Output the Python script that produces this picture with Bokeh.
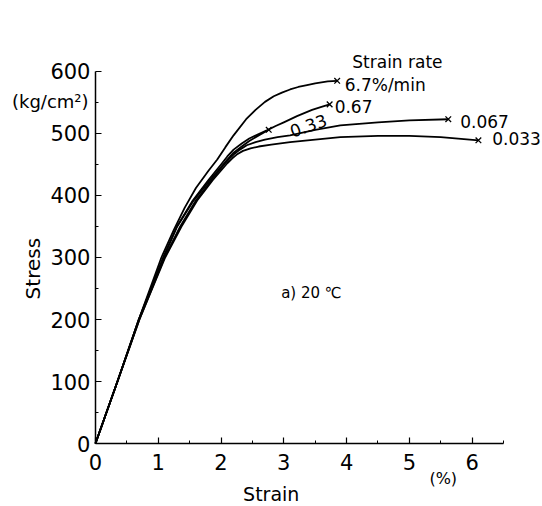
import math
from bokeh.plotting import figure
from bokeh.models import Range1d, FixedTicker, Label, LinearAxis
from bokeh.embed import file_html
from bokeh.resources import INLINE

# ---- data (strain %, stress kg/cm2) ----
x_67 = [0, 0.35, 0.69, 1.05, 1.25, 1.42, 1.6, 1.8, 1.94, 2.07, 2.2, 2.4, 2.55, 2.7, 2.84, 2.97, 3.1, 3.23, 3.37, 3.5, 3.7, 3.85]
y_67 = [0, 100, 200, 300, 345, 380, 412, 440, 458, 478, 497, 523, 538, 551, 560, 566, 571, 575, 578, 581, 584, 585]

x_067 = [0, 0.35, 0.69, 1.08, 1.3, 1.55, 1.8, 2.0, 2.1, 2.2, 2.33, 2.45, 2.6, 2.73, 2.87, 3.0, 3.21, 3.45, 3.6, 3.73]
y_067 = [0, 100, 200, 300, 350, 392, 425, 450, 463, 474, 484, 492, 499, 505, 512, 518, 528, 538, 543, 547]

x_033 = [0, 0.35, 0.69, 1.08, 1.3, 1.55, 1.8, 2.0, 2.1, 2.2, 2.33, 2.45, 2.6, 2.76]
y_033 = [0, 100, 200, 300, 350, 390, 422, 446, 458, 469, 479, 488, 497, 506]

x_0067 = [0, 0.35, 0.7, 1.1, 1.35, 1.6, 1.85, 2.05, 2.13, 2.2, 2.3, 2.41, 2.55, 2.7, 2.9, 3.1, 3.5, 3.9, 4.5, 5.0, 5.62]
y_0067 = [0, 100, 200, 300, 350, 392, 425, 450, 459, 466, 474, 481, 486, 490, 494, 497, 506, 513, 518, 521, 523]

x_0033 = [0, 0.35, 0.7, 1.11, 1.37, 1.62, 1.87, 2.1, 2.18, 2.25, 2.35, 2.47, 2.6, 2.8, 3.1, 3.5, 3.9, 4.5, 5.0, 5.5, 6.1]
y_0033 = [0, 100, 200, 300, 350, 392, 425, 452, 460, 466, 472, 476, 479, 482, 486, 490, 494, 496, 496, 494, 489]

x_ticks = [0, 1, 2, 3, 4, 5, 6]
x_minor = [0.5, 1.5, 2.5, 3.5, 4.5, 5.5, 6.5]
y_ticks = [0, 100, 200, 300, 400, 500, 600]
y_minor = [50, 150, 250, 350, 450, 550]

curve_labels = ["6.7%/min", "0.67", "0.33", "0.067", "0.033"]

FONT = "DejaVu Sans"

p = figure(width=542, height=506, output_backend="svg", toolbar_location=None,
           x_range=Range1d(-1.513, 7.121), y_range=Range1d(-101.6, 714.5),
           x_axis_location=None, y_axis_location=None,
           min_border=0)
p.outline_line_color = None
p.grid.visible = False
p.background_fill_color = "white"
p.border_fill_color = "white"

xaxis = LinearAxis(fixed_location=0, bounds=(0, 6.5))
yaxis = LinearAxis(fixed_location=0, bounds=(0, 600))
for ax, tk, mn in ((xaxis, x_ticks, x_minor), (yaxis, y_ticks, y_minor)):
    ax.ticker = FixedTicker(ticks=tk, minor_ticks=mn)
    ax.major_tick_in = 6
    ax.major_tick_out = 0
    ax.minor_tick_in = 3
    ax.minor_tick_out = 0
    ax.axis_line_width = 1.5
    ax.major_tick_line_width = 1.2
    ax.major_label_text_font = FONT
    ax.major_label_text_font_size = "21px"
    ax.major_label_text_color = "black"
    ax.axis_line_color = "black"
xaxis.major_label_standoff = 10
yaxis.major_label_standoff = 5
p.add_layout(xaxis, "below")
p.add_layout(yaxis, "left")

series = [(x_67, y_67), (x_067, y_067), (x_033, y_033), (x_0067, y_0067), (x_0033, y_0033)]
for xs, ys in series:
    p.line(xs, ys, line_color="black", line_width=1.8, line_join="round")
    p.scatter([xs[-1]], [ys[-1]], marker="x", size=8, line_color="black", line_width=1.3)

def lab(x, y, text, size="17px", align="left", angle=0.0, baseline="middle"):
    p.add_layout(Label(x=x, y=y, text=text, text_font=FONT, text_font_size=size,
                       text_align=align, text_baseline=baseline, angle=angle,
                       text_color="black"))

# curve labels
lab(x_67[-1] + 0.12, y_67[-1] - 6, curve_labels[0])
lab(x_067[-1] + 0.08, y_067[-1] - 3, curve_labels[1])
lab(3.39, 513, curve_labels[2], align="center", angle=0.33)
lab(x_0067[-1] + 0.19, y_0067[-1] - 4, curve_labels[3])
lab(x_0033[-1] + 0.22, y_0033[-1] + 3, curve_labels[4])
lab(4.81, 615, "Strain rate", align="center")

lab(3.44, 242, "a) 20 ℃", size="15px", align="center")
lab(-0.11, 552, "(kg/cm²)", size="18px", align="right")
lab(-1.0, 282, "Stress", size="20px", align="center", angle=math.pi / 2)
lab(2.8, -81, "Strain", size="19px", align="center")
lab(5.54, -56, "(%)", size="16px", align="center")

open("out.html", "w").write(file_html(p, INLINE))
